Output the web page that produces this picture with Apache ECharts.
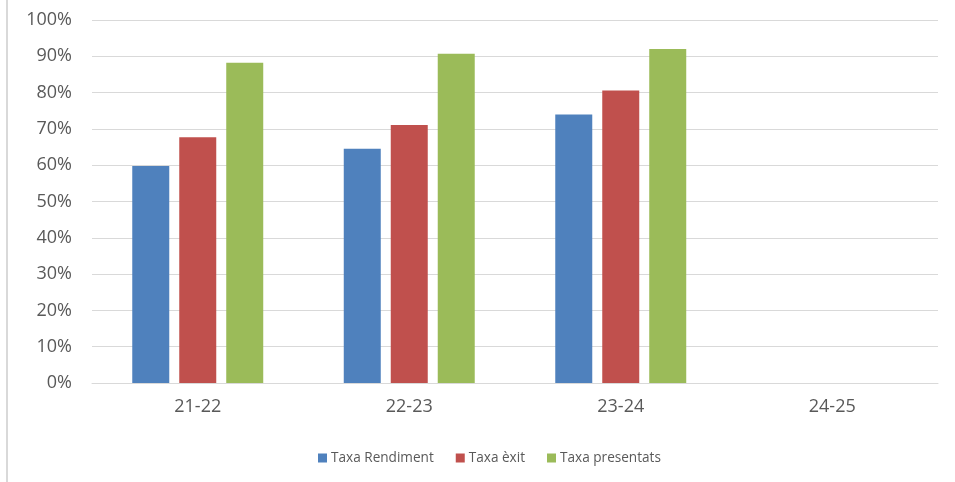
<!DOCTYPE html>
<html style="height:100%">
<head>
    <meta charset="utf-8">
    <title>Taxes</title>
    <script src="https://cdn.jsdelivr.net/npm/echarts@6/dist/echarts.min.js"></script>
</head>
<body style="height:100%;margin:0">
    <div id="main" style="width:955px;height:482px;"></div>
    <script type="text/javascript">
        var myChart = echarts.init(document.getElementById('main'));

        var cursos = ['21-22', '22-23', '23-24', '24-25'];
        var taxaRendiment = [59.8, 64.5, 74.0, null];
        var taxaExit = [67.7, 71.1, 80.6, null];
        var taxaPresentats = [88.2, 90.7, 92.0, null];

        var textColor = '#595959';
        var gridColor = '#d9d9d9';

        function barSeries(name, data, color) {
            return {
                name: name,
                type: 'bar',
                barWidth: 37,
                barGap: '27%',
                itemStyle: { color: color },
                data: data
            };
        }

        var option = {
            backgroundColor: '#fff',
            textStyle: { fontFamily: 'Open Sans' },
            graphic: [{
                type: 'line',
                shape: { x1: 7, y1: 0, x2: 7, y2: 482 },
                style: { stroke: gridColor, lineWidth: 2 }
            }],
            legend: {
                bottom: 12,
                left: 313,
                itemWidth: 9,
                itemHeight: 9,
                itemGap: 22,
                icon: 'rect',
                textStyle: { color: textColor, fontSize: 13.6, padding: [0, 0, 0, -1] },
                data: ['Taxa Rendiment', 'Taxa èxit', 'Taxa presentats']
            },
            grid: {
                left: 92,
                right: 17,
                top: 20,
                bottom: 99
            },
            xAxis: {
                type: 'category',
                data: cursos,
                axisLine: { show: true, lineStyle: { color: gridColor } },
                axisTick: { show: false },
                axisLabel: { color: textColor, fontSize: 18, margin: 15 }
            },
            yAxis: {
                type: 'value',
                min: 0,
                max: 100,
                interval: 10,
                axisLine: { show: false },
                axisTick: { show: false },
                axisLabel: { color: textColor, fontSize: 18, margin: 20, formatter: '{value}%' },
                splitLine: { lineStyle: { color: gridColor, width: 1 } }
            },
            series: [
                barSeries('Taxa Rendiment', taxaRendiment, '#4f81bd'),
                barSeries('Taxa èxit', taxaExit, '#c0504d'),
                barSeries('Taxa presentats', taxaPresentats, '#9bbb59')
            ]
        };

        myChart.setOption(option);
    </script>
</body>
</html>
